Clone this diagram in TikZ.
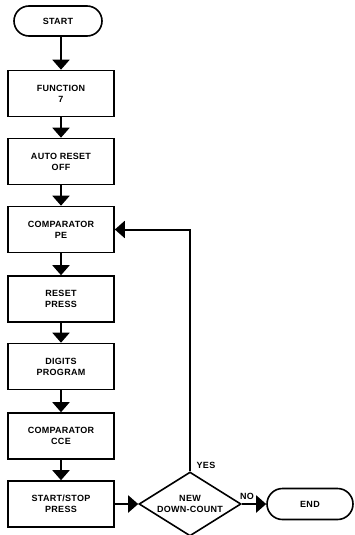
\documentclass[tikz,border=0pt]{standalone}
\usepackage{fontspec}
\setmainfont{Liberation Sans}[LetterSpace=3]
\usetikzlibrary{arrows.meta,shapes.geometric,shapes.misc}
\tikzset{
  txt/.style={font=\fontsize{9}{11}\selectfont\bfseries},
  box/.style={txt, draw, line width=1.6pt, minimum width=106pt, minimum height=46pt, inner sep=0pt, align=center},
  term/.style={txt, draw, line width=1.6pt, rounded rectangle, minimum width=88pt, minimum height=30pt, inner sep=0pt},
  decision/.style={txt, draw, line width=1.6pt, diamond, shape aspect=2, minimum width=102pt, minimum height=64pt, inner sep=0pt, align=center},
  flow/.style={line width=2pt, -{Triangle[length=10pt,width=17pt]}},
  lbl/.style={txt, inner sep=0pt}
}
\begin{document}
\begin{tikzpicture}[x=1pt,y=-1pt]
\useasboundingbox (0,0) rectangle (355,535);
\node[term] (start) at (58,21) {START};
\node[box] (f1) at (61,93.5) {FUNCTION\\7};
\node[box] (f2) at (61,161.5) {AUTO RESET\\OFF};
\node[box] (f3) at (61,229.5) {COMPARATOR\\PE};
\node[box] (f4) at (61,299) {RESET\\PRESS};
\node[box] (f5) at (61,366.5) {DIGITS\\PROGRAM};
\node[box] (f6) at (61,436) {COMPARATOR\\CCE};
\node[box] (f7) at (61,504) {START/STOP\\PRESS};
\node[decision] (dec) at (190,504) {NEW\\DOWN-COUNT};
\node[term, minimum width=86pt, minimum height=31pt] (end) at (310,504) {END};
\node[lbl] (yes) at (206,465) {YES};
\node[lbl] (no) at (247,496) {NO};
\draw[flow] (start.south -| f1.north) -- (f1.north);
\draw[flow] (f1) -- (f2);
\draw[flow] (f2) -- (f3);
\draw[flow] (f3) -- (f4);
\draw[flow] (f4) -- (f5);
\draw[flow] (f5) -- (f6);
\draw[flow] (f6) -- (f7);
\draw[flow] (f7) -- (dec);
\draw[flow] (dec) -- (end);
\draw[flow] (dec.north) |- (f3.east);
\end{tikzpicture}
\end{document}
